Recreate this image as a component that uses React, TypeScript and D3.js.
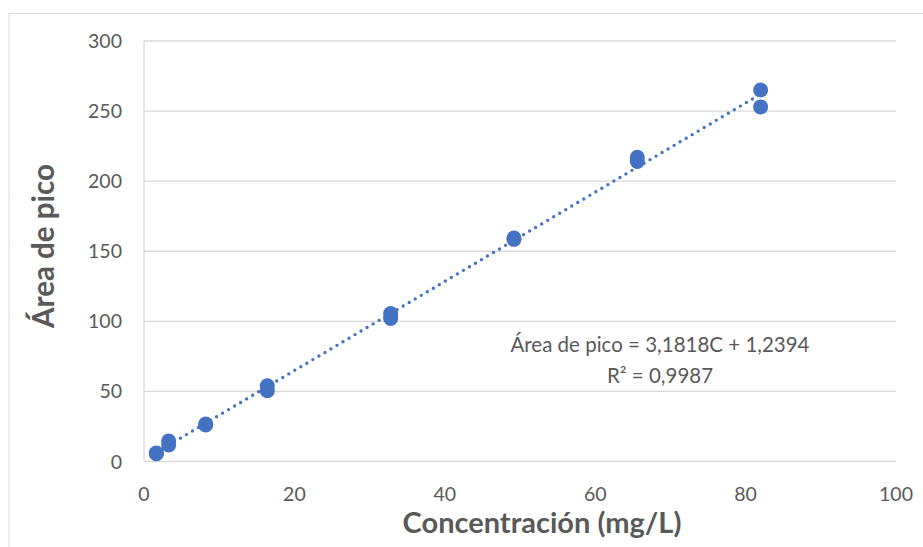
import React from "react";
import * as d3 from "d3";

// Calibration points: concentration (mg/L) and measured peak area
const concentration = [1.64, 1.64, 3.28, 3.28, 8.2, 8.2, 16.4, 16.4, 32.8, 32.8, 49.2, 49.2, 65.6, 65.6, 82, 82];
const peakArea = [5.6, 6.0, 11.8, 14.6, 26.0, 26.8, 50.5, 54.0, 102.0, 105.5, 158.5, 159.5, 214.0, 217.0, 253.0, 265.0];

// Linear fit shown on the chart
const slope = 3.1818;
const intercept = 1.2394;
const equationText = "Área de pico = 3,1818C + 1,2394";
const r2Text = "R² = 0,9987";

const xTicks = [0, 20, 40, 60, 80, 100];
const yTicks = [0, 50, 100, 150, 200, 250, 300];
const xTitle = "Concentración (mg/L)";
const yTitle = "Área de pico";

const W = 923;
const H = 547;
const FONT = "Lato, 'Open Sans', sans-serif";
const BLUE = "#4472C4";
const GRID = "#D9D9D9";
const TEXT = "#595959";

export default function App() {
  const x = d3.scaleLinear().domain([0, 100]).range([144, 896]);
  const y = d3.scaleLinear().domain([0, 300]).range([461.5, 41]);

  const xMin = d3.min(concentration) as number;
  const xMax = d3.max(concentration) as number;
  const trend = d3
    .line<number>()
    .x((c) => x(c))
    .y((c) => y(slope * c + intercept))([xMin, xMax]);

  return (
    <svg
      width={W}
      height={H}
      style={{ position: "absolute", left: 0, top: 0, background: "#fff" }}
    >
      {/* chart frame */}
      <rect x={9} y={13.5} width={W + 20} height={H + 20} fill="none" stroke={GRID} strokeWidth={1} />

      {/* horizontal gridlines */}
      {yTicks.map((t) => (
        <line key={"g" + t} x1={x(0)} x2={x(100)} y1={y(t)} y2={y(t)} stroke={GRID} strokeWidth={1.3} />
      ))}
      {/* vertical axis line */}
      <line x1={x(0)} x2={x(0)} y1={y(300)} y2={y(0)} stroke={GRID} strokeWidth={1.3} />

      {/* y tick labels */}
      {yTicks.map((t) => (
        <text
          key={"yl" + t}
          x={122}
          y={y(t)}
          dy="0.36em"
          textAnchor="end"
          fontFamily={FONT}
          fontSize={19.5}
          fill={TEXT}
        >
          {t}
        </text>
      ))}
      {/* x tick labels */}
      {xTicks.map((t) => (
        <text
          key={"xl" + t}
          x={x(t)}
          y={501}
          textAnchor="middle"
          fontFamily={FONT}
          fontSize={19.5}
          fill={TEXT}
        >
          {t}
        </text>
      ))}

      {/* axis titles */}
      <text
        x={542}
        y={533}
        textAnchor="middle"
        fontFamily={FONT}
        fontSize={29}
        fontWeight="bold"
        fill={TEXT}
      >
        {xTitle}
      </text>
      <text
        transform={`translate(54, 246) rotate(-90)`}
        textAnchor="middle"
        fontFamily={FONT}
        fontSize={29.5}
        fontWeight="bold"
        fill={TEXT}
      >
        {yTitle}
      </text>

      {/* data points */}
      {concentration.map((c, i) => (
        <circle key={"p" + i} cx={x(c)} cy={y(peakArea[i])} r={7.5} fill={BLUE} />
      ))}

      {/* dotted linear trendline */}
      <path
        d={trend ?? ""}
        fill="none"
        stroke={BLUE}
        strokeWidth={3.4}
        strokeLinecap="round"
        strokeDasharray="0 7"
      />

      {/* fit equation */}
      <text x={660} y={352} textAnchor="middle" fontFamily={FONT} fontSize={20.5} fill={TEXT}>
        {equationText}
      </text>
      <text x={660} y={383} textAnchor="middle" fontFamily={FONT} fontSize={20.5} fill={TEXT}>
        {r2Text}
      </text>
    </svg>
  );
}
